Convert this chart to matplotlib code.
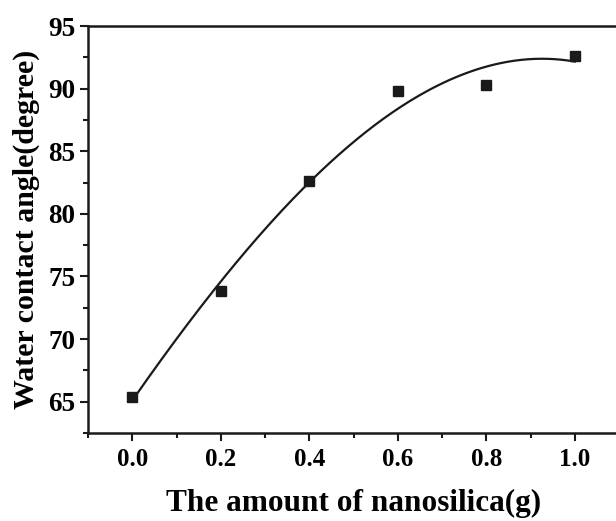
import numpy as np
import matplotlib
matplotlib.use("Agg")
import matplotlib.pyplot as plt
from matplotlib.ticker import MultipleLocator

x = [0.0, 0.2, 0.4, 0.6, 0.8, 1.0]
y = [65.4, 73.8, 82.6, 89.8, 90.3, 92.6]
xticks = [0.0, 0.2, 0.4, 0.6, 0.8, 1.0]
yticks = [65, 70, 75, 80, 85, 90, 95]

plt.rcParams['font.family'] = ['Liberation Serif', 'DejaVu Serif']
plt.rcParams['font.weight'] = 'bold'

fig = plt.figure(figsize=(6.16, 5.21), dpi=100)
W, H = 616, 521
ax = fig.add_axes([88 / W, (H - 433) / H, (619 - 88) / W, (433 - 26) / H])

coef = np.polyfit(x, y, 3)
xs = np.linspace(0, 1, 200)
ax.plot(xs, np.polyval(coef, xs), color='#1a1a1a', lw=1.6)
ax.plot(x, y, 's', color='#1a1a1a', ms=6.5)

ax.set_xlim(-0.1, 1.1)
ax.set_ylim(62.5, 95)
ax.set_xticks(xticks)
ax.set_xticklabels([f"{t:.1f}" for t in xticks])
ax.set_yticks(yticks)
ax.xaxis.set_minor_locator(MultipleLocator(0.1))
ax.yaxis.set_minor_locator(MultipleLocator(2.5))
ax.tick_params(which='major', direction='out', length=6, width=1.5, color='#1a1a1a')
ax.tick_params(which='minor', direction='out', length=3.5, width=1.5, color='#1a1a1a')
ax.tick_params(axis='x', which='major', labelsize=18, pad=5)
ax.tick_params(axis='y', which='major', labelsize=19.5, pad=3)
for s in ax.spines.values():
    s.set_linewidth(1.8)
    s.set_color('#1a1a1a')

ax.set_xlabel('The amount of nanosilica(g)', fontsize=22.5, fontweight='bold', labelpad=13)
ax.set_ylabel('Water contact angle(degree)', fontsize=21.5, fontweight='bold', labelpad=6)

fig.savefig('out.png', dpi=100)
